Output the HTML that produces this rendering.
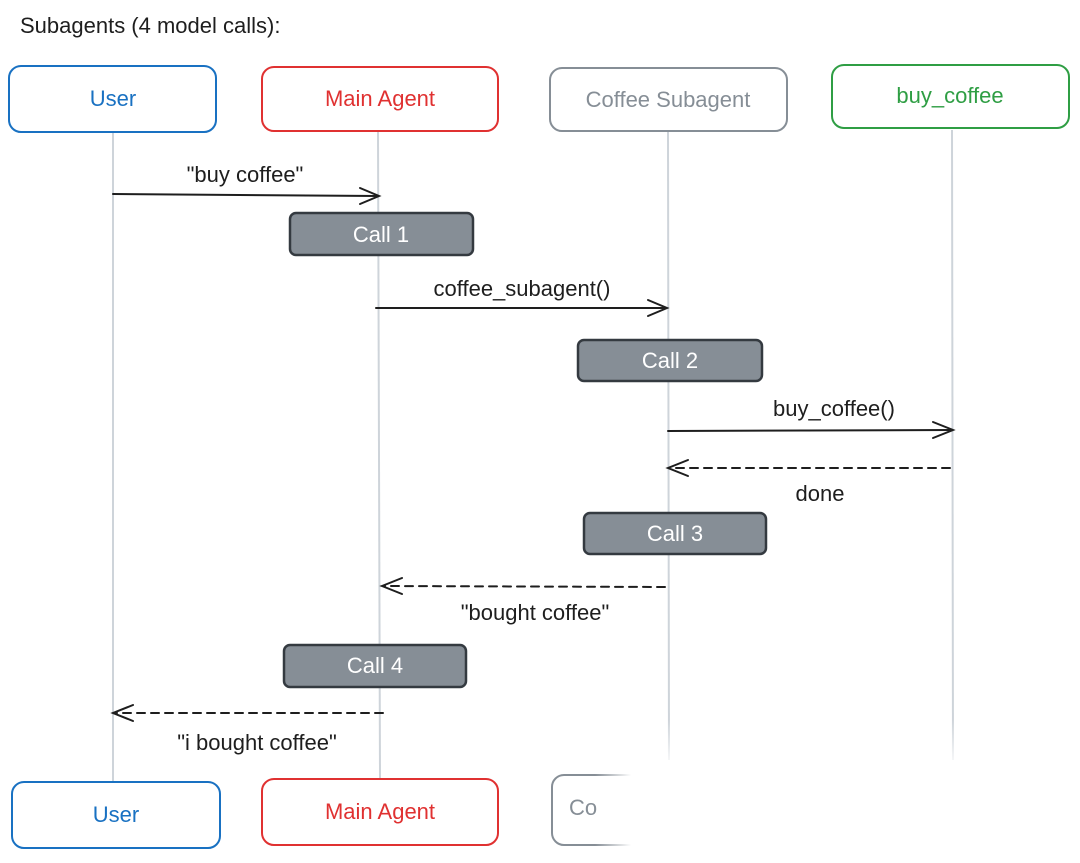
<!DOCTYPE html>
<html><head><meta charset="utf-8"><style>
html,body{margin:0;padding:0;background:#fff;}
svg text{font-family:"Liberation Sans",sans-serif;}
</style></head><body>
<svg width="1080" height="858" viewBox="0 0 1080 858" xmlns="http://www.w3.org/2000/svg">
<defs>
<linearGradient id="fade" x1="0" x2="1" y1="0" y2="0">
<stop offset="0" stop-color="#fff" stop-opacity="0"/><stop offset="0.15" stop-color="#fff" stop-opacity="1"/></linearGradient>
<linearGradient id="vfade" x1="0" x2="0" y1="0" y2="1">
<stop offset="0" stop-color="#fff" stop-opacity="0"/><stop offset="1" stop-color="#fff" stop-opacity="1"/></linearGradient>
</defs>
<text x="20" y="33" font-size="22" fill="#1e1e1e">Subagents (4 model calls):</text>
<g stroke="#ced4da" stroke-width="2">
<line x1="113" y1="133" x2="113" y2="782"/>
<line x1="378" y1="132" x2="380" y2="779"/>
<line x1="668" y1="132" x2="669" y2="760"/>
<line x1="952" y1="130" x2="953" y2="760"/>
</g>
<rect x="640" y="720" width="340" height="50" fill="url(#vfade)"/>
<g fill="#fff" stroke-width="2">
<rect x="9" y="66" width="207" height="66" rx="12" stroke="#1971c2"/>
<rect x="262" y="67" width="236" height="64" rx="12" stroke="#e03131"/>
<rect x="550" y="68" width="237" height="63" rx="12" stroke="#868e96"/>
<rect x="832" y="65" width="237" height="63" rx="12" stroke="#2f9e44"/>
<rect x="12" y="782" width="208" height="66" rx="12" stroke="#1971c2"/>
<rect x="262" y="779" width="236" height="66" rx="12" stroke="#e03131"/>
<rect x="552" y="775" width="236" height="70" rx="12" stroke="#868e96"/>
</g>
<g font-size="22" text-anchor="middle">
<text x="113" y="106" fill="#1971c2">User</text>
<text x="380" y="106" fill="#e03131">Main Agent</text>
<text x="668" y="107" fill="#868e96">Coffee Subagent</text>
<text x="950" y="103" fill="#2f9e44">buy_coffee</text>
<text x="116" y="822" fill="#1971c2">User</text>
<text x="380" y="819" fill="#e03131">Main Agent</text>
<text x="583" y="815" fill="#868e96">Co</text>
</g>
<rect x="595" y="770" width="240" height="80" fill="url(#fade)"/>
<g fill="#868e96" stroke="#343a40" stroke-width="2.5">
<rect x="290" y="213" width="183" height="42" rx="6"/>
<rect x="578" y="340" width="184" height="41" rx="6"/>
<rect x="584" y="513" width="182" height="41" rx="6"/>
<rect x="284" y="645" width="182" height="42" rx="6"/>
</g>
<g font-size="22" fill="#fff" text-anchor="middle">
<text x="381" y="242">Call 1</text>
<text x="670" y="368">Call 2</text>
<text x="675" y="541">Call 3</text>
<text x="375" y="673">Call 4</text>
</g>
<g stroke="#1e1e1e" stroke-width="2" fill="none" stroke-linecap="round">
<line x1="113" y1="194" x2="378" y2="196"/><polyline points="360,188 379,196 360,204"/>
<line x1="376" y1="308" x2="666" y2="308"/><polyline points="648,300 667,308 648,316"/>
<line x1="668" y1="431" x2="952" y2="430"/><polyline points="933,422 953,430 933,438"/>
<g stroke-dasharray="8 6">
<line x1="950" y1="468" x2="670" y2="468"/>
<line x1="665" y1="587" x2="384" y2="586"/>
<line x1="383" y1="713" x2="115" y2="713"/>
</g>
<polyline points="688,460 668,468 688,476"/>
<polyline points="402,578 382,586 402,594"/>
<polyline points="133,705 113,713 133,721"/>
</g>
<g font-size="22" fill="#1e1e1e" text-anchor="middle">
<text x="245" y="182">"buy coffee"</text>
<text x="522" y="296">coffee_subagent()</text>
<text x="834" y="416">buy_coffee()</text>
<text x="820" y="501">done</text>
<text x="535" y="620">"bought coffee"</text>
<text x="257" y="750">"i bought coffee"</text>
</g>
</svg>
</body></html>
